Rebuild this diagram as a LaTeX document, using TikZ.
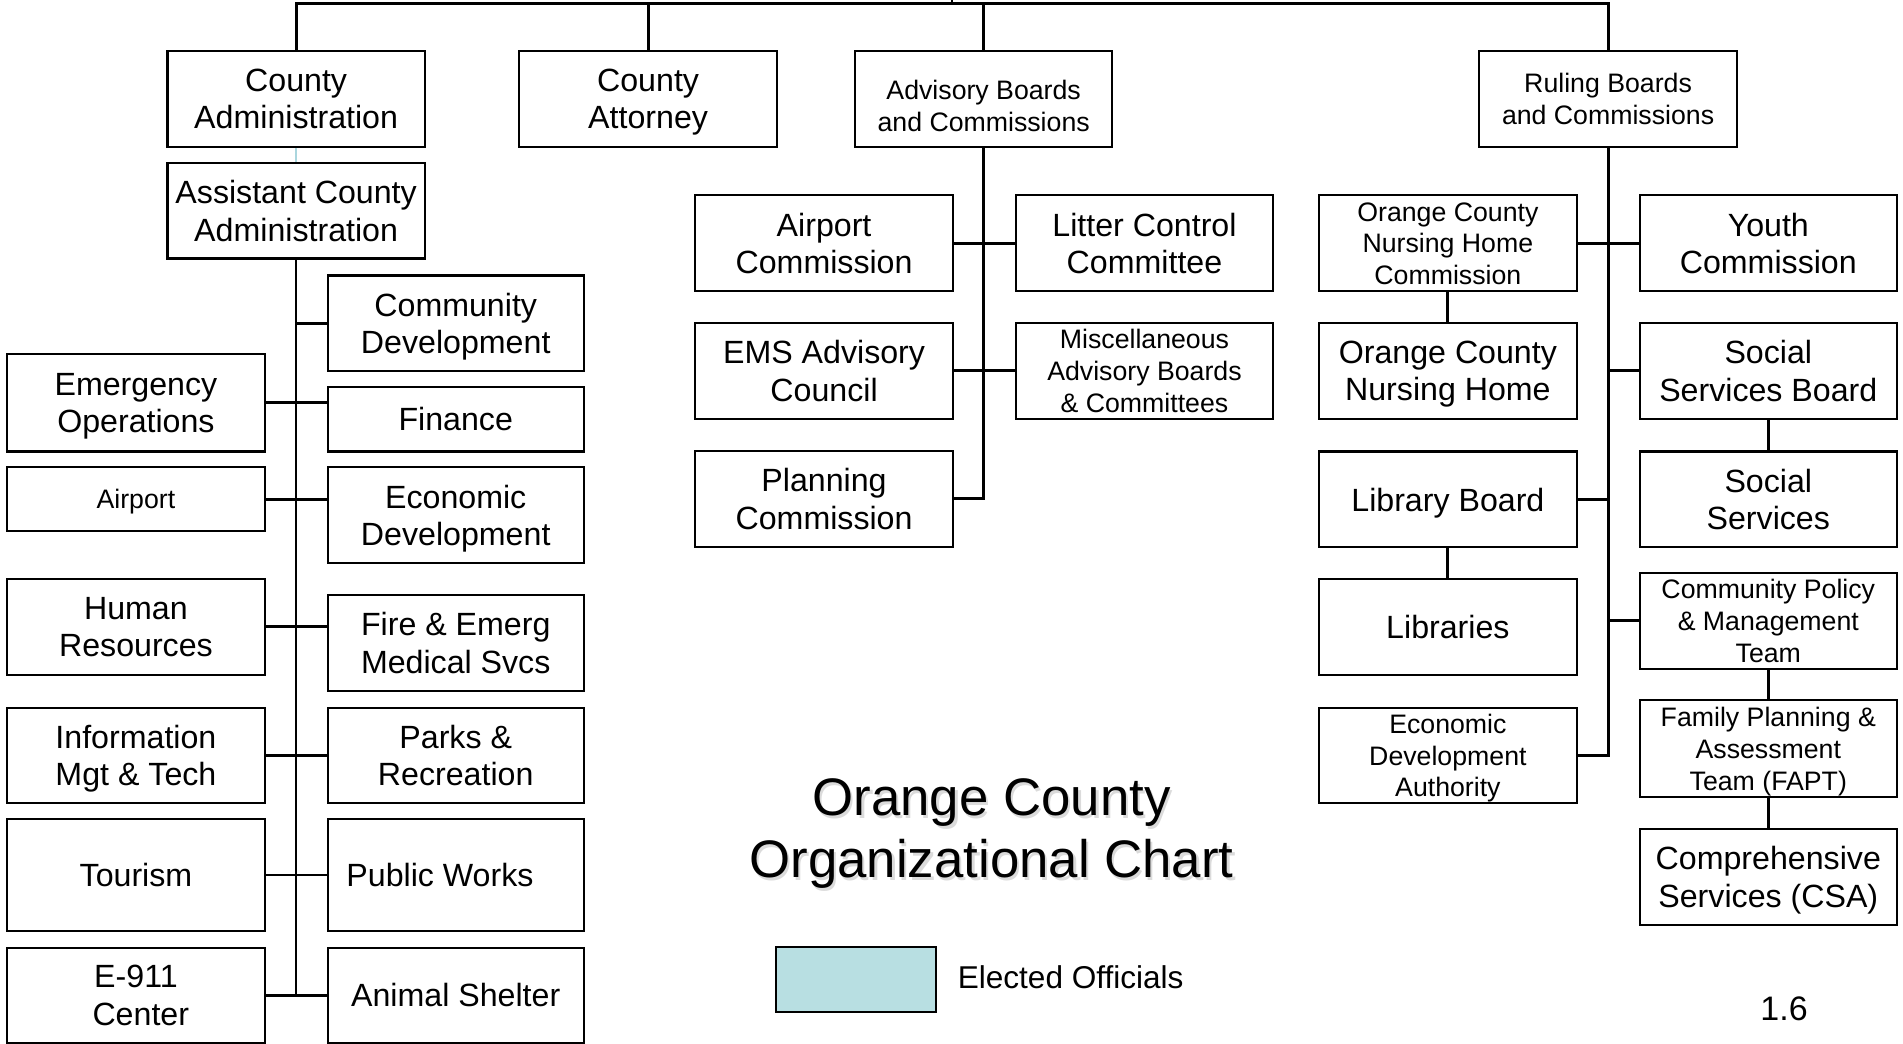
\documentclass[tikz,border=0pt]{standalone}
\usepackage{fontspec}
\setmainfont{Liberation Sans}
\definecolor{legblue}{RGB}{184,223,226}
\definecolor{linkblue}{RGB}{170,214,222}
\newcommand{\bigtxt}{\fontsize{26.5}{31}\selectfont}
\newcommand{\smtxt}{\fontsize{22}{26}\selectfont}
\begin{document}
\begin{tikzpicture}[x=1pt,y=-1pt,
  box/.style={draw, line width=1.7pt, inner sep=0pt, align=center,
    minimum width=212pt, minimum height=79pt, font=\bigtxt, text depth=0pt},
  smallbox/.style={box, font=\smtxt},
  conn/.style={line width=2.4pt},
  spine/.style={line width=2pt}]
\useasboundingbox (0,0) rectangle (1568,860.2);

% ---------- top row ----------
\node[box] (ca) at (244,81.5) {County\\Administration};
\node[box] (att) at (534,81.5) {County\\Attorney};
\node[smallbox] (adv) at (810.5,81.5) {\rule{0pt}{27pt}Advisory Boards\\and Commissions};
\node[smallbox] (rul) at (1325,81.5) {Ruling Boards\\and Commissions};
\node[box] (aca) at (244,173.5) {Assistant County\\Administration};

% ---------- left departments ----------
\node[box, minimum width=211pt] (cd) at (375.5,266.5) {Community\\Development};
\node[box, minimum height=80pt] (eo) at (112,332) {Emergency\\Operations};
\node[box, minimum width=211pt, minimum height=53pt] (fin) at (375.5,345.5) {Finance};
\node[smallbox, minimum height=52.5pt] (airp) at (112,411.25) {Airport};
\node[box, minimum width=211pt] (ed) at (375.5,424.5) {Economic\\Development};
\node[box] (hr) at (112,516.5) {Human\\Resources};
\node[box, minimum width=211pt] (fire) at (375.5,529.5) {Fire \& Emerg\\Medical Svcs};
\node[box] (imt) at (112,622.5) {Information\\Mgt \& Tech};
\node[box, minimum width=211pt] (parks) at (375.5,622.5) {Parks \&\\Recreation};
\node[box, minimum height=92pt] (tour) at (112,721) {Tourism};
\node[box, minimum width=211pt, minimum height=92pt] (pw) at (375.5,721) {\hspace*{-26pt}Public Works};
\node[box, minimum height=78pt] (e911) at (112,820) {E-911\\\hspace*{8pt}Center};
\node[box, minimum width=211pt, minimum height=78pt] (as) at (375.5,820) {Animal Shelter};

% ---------- advisory group ----------
\node[box] (apc) at (679,200.5) {Airport\\Commission};
\node[box] (lit) at (943,200.5) {Litter Control\\Committee};
\node[box] (ems) at (679,305.5) {EMS Advisory\\Council};
\node[smallbox] (misc) at (943,305.5) {Miscellaneous\\Advisory Boards\\\& Committees};
\node[box] (plan) at (679,411) {Planning\\Commission};

% ---------- ruling group ----------
\node[smallbox] (ocnhc) at (1193,200.5) {Orange County\\Nursing Home\\Commission};
\node[box] (yc) at (1457,200.5) {Youth\\Commission};
\node[box] (ocnh) at (1193,305.5) {Orange County\\Nursing Home};
\node[box] (ssb) at (1457,305.5) {Social\\Services Board};
\node[box] (lb) at (1193,411.5) {Library Board};
\node[box] (ss) at (1457,411.5) {Social\\Services};
\node[box] (lib) at (1193,516.5) {Libraries};
\node[smallbox] (cpmt) at (1457,511.5) {Community Policy\\\& Management\\Team};
\node[smallbox] (eda) at (1193,622.5) {Economic\\Development\\Authority};
\node[smallbox, minimum height=80pt] (fapt) at (1457,617) {Family Planning \&\\Assessment\\Team (FAPT)};
\node[box] (csa) at (1457,722.5) {Comprehensive\\Services (CSA)};

% ---------- title, legend, page number ----------
\node[align=center, text=black!14, font=\fontsize{43.5}{51}\selectfont] (titleshadow) at (819,689.5) {Orange County\\Organizational Chart};
\node[align=center, font=\fontsize{43.5}{51}\selectfont] (title) at (817,686.5) {Orange County\\Organizational Chart};
\node[draw, line width=1.7pt, fill=legblue, minimum width=132pt, minimum height=54pt, inner sep=0pt] (leg) at (705,807) {};
\node[anchor=west, font=\fontsize{26}{31}\selectfont, inner sep=0pt] (legtext) at (789,805) {Elected Officials};
\node[font=\fontsize{28}{33}\selectfont] (pagenum) at (1470,831) {1.6};

% ---------- connectors ----------
\coordinate (topmark) at (784.5,0);
\draw[line width=1.8pt] (topmark) -- (784.5,2.7);
\draw[conn] (ca.north) -- (ca.north |- 0,2.7) -| (rul.north);
\draw[conn] (att.north) -- (att.north |- 0,2.7);
\draw[conn] (adv.north) -- (adv.north |- 0,2.7);

\draw[line width=1.5pt, linkblue] (ca.south) -- (aca.north);

% left spine
\draw[spine] (aca.south) -- (aca.south |- as.west);
\draw[conn] (aca.south |- cd.west) -- (cd.west);
\draw[conn] (eo.east) -- (eo.east -| fin.west);
\draw[conn] (airp.east) -- (airp.east -| ed.west);
\draw[conn] (hr.east) -- (hr.east -| fire.west);
\draw[conn] (imt.east) -- (parks.west);
\draw[spine] (tour.east) -- (pw.west);
\draw[conn] (e911.east) -- (as.west);

% advisory spine
\draw[conn] (adv.south) -- (adv.south |- plan.east) -- (plan.east);
\draw[conn] (apc.east) -- (lit.west);
\draw[conn] (ems.east) -- (misc.west);

% ruling spine
\draw[conn] (rul.south) -- (rul.south |- eda.east) -- (eda.east);
\draw[conn] (ocnhc.east) -- (yc.west);
\draw[conn] (rul.south |- ssb.west) -- (ssb.west);
\draw[conn] (lb.east) -- (lb.east -| rul.south);
\draw[conn] (rul.south |- cpmt.west) -- (cpmt.west);
\draw[conn] (ocnhc.south) -- (ocnh.north);
\draw[conn] (lb.south) -- (lib.north);
\draw[conn] (ssb.south) -- (ss.north);
\draw[conn] (cpmt.south) -- (fapt.north);
\draw[conn] (fapt.south) -- (csa.north);
\end{tikzpicture}
\end{document}
